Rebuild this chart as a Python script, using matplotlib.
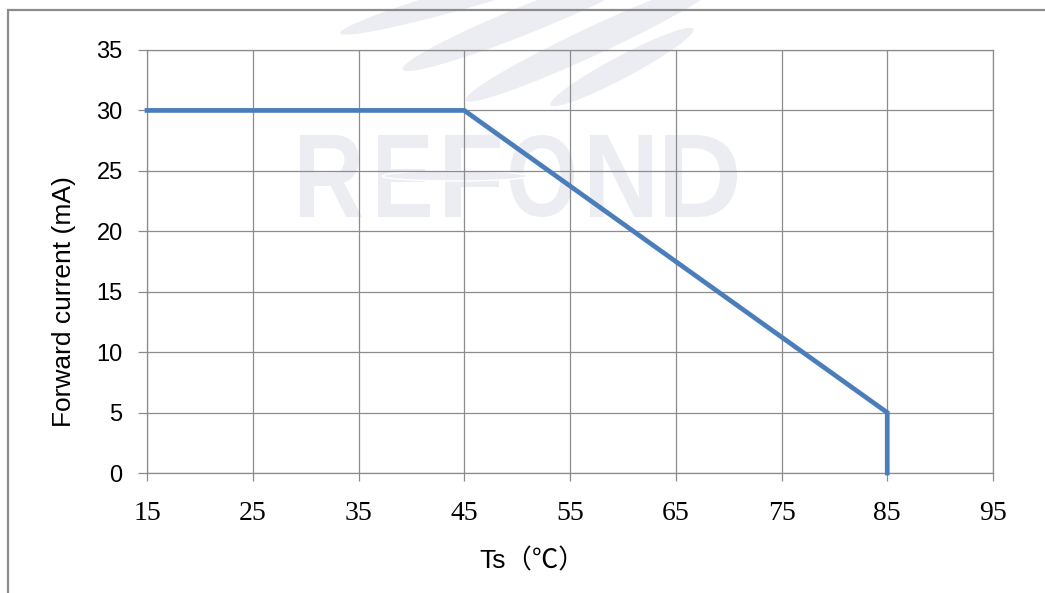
import matplotlib
matplotlib.use("Agg")
import matplotlib.pyplot as plt
from matplotlib.patches import Ellipse, Rectangle, PathPatch
from matplotlib.textpath import TextPath
from matplotlib.font_manager import FontProperties
from matplotlib.transforms import IdentityTransform, Affine2D

# ---- data ----
ts_c = [15, 45, 85, 85]
forward_ma = [30, 30, 5, 0]
x_ticks = [15, 25, 35, 45, 55, 65, 75, 85, 95]
y_ticks = [0, 5, 10, 15, 20, 25, 30, 35]
x_label = "Ts（℃）"
y_label = "Forward current (mA)"
watermark = "REFOND"

W, H = 1045, 593
fig = plt.figure(figsize=(W / 100, H / 100), dpi=100)
fig.patch.set_facecolor("white")

def px(x, y):
    return (x, H - y)

wm_color = "#ebedf3"
ident = IdentityTransform()

# swooshes of the watermark logo (pixel coords)
for (cx, cy, L, w, ang) in [(470, -4, 270, 22, 16), (530, 18, 275, 28, 22),
                            (595, 40, 285, 28, 25), (622, 67, 162, 22, 28)]:
    e = Ellipse(px(cx, cy), L, w, angle=ang, transform=ident,
                facecolor=wm_color, edgecolor="none", zorder=-2)
    fig.patches.append(e)

# watermark letters, each scaled into its own box
prop = FontProperties(family="Liberation Sans", weight="bold")
boxes = [(300, 362), (378, 430), (445, 500), (510, 574), (590, 652), (665, 737)]
yt, yb = 135, 217
for ch, (x0, x1) in zip(watermark, boxes):
    tp = TextPath((0, 0), ch, size=100, prop=prop)
    ext = tp.get_extents()
    sx = (x1 - x0) / ext.width
    sy = (yb - yt) / ext.height
    tr = Affine2D().translate(-ext.x0, -ext.y0).scale(sx, sy).translate(x0, H - yb)
    fig.patches.append(PathPatch(tr.transform_path(tp), transform=ident,
                                 facecolor=wm_color, edgecolor="none", zorder=-2))
fig.patches.append(Ellipse(px(455, 176), 145, 10, transform=ident,
                           facecolor=wm_color, edgecolor="white", linewidth=1.0,
                           zorder=-1.5))

# outer frame
fig.patches.append(Rectangle((8, -30), 1200, (H - 10) + 30, transform=ident,
                             facecolor="none", edgecolor="#8c8c8c",
                             linewidth=1.6, zorder=-1))

left, right, top, bottom = 147, 993, 50, 473
ax = fig.add_axes([left / W, (H - bottom) / H, (right - left) / W, (bottom - top) / H])
ax.set_facecolor("none")

ax.plot(ts_c, forward_ma, color="#4a7ebb", linewidth=3.4,
        solid_joinstyle="miter", zorder=3, clip_on=False)

ax.set_xlim(15, 95)
ax.set_ylim(0, 35)
ax.set_xticks(x_ticks)
ax.set_yticks(y_ticks)
ax.grid(True, color="#8c8c8c", linewidth=0.9)
ax.set_axisbelow(True)
for s in ax.spines.values():
    s.set_color("#8c8c8c")
    s.set_linewidth(0.9)

ax.tick_params(axis="x", direction="out", length=6, width=0.9, color="#8c8c8c",
               pad=14, labelsize=20)
ax.tick_params(axis="y", direction="out", length=6.5, width=0.9, color="#8c8c8c",
               pad=11, labelsize=17)
for t in ax.get_xticklabels():
    t.set_fontfamily(["Liberation Serif", "DejaVu Serif"])
for t in ax.get_yticklabels():
    t.set_fontfamily(["Liberation Sans", "DejaVu Sans"])

ax.set_xlabel(x_label, fontsize=19, family=["Liberation Sans", "Noto Sans CJK SC"])
ax.xaxis.label.set_va("center")
ax.xaxis.set_label_coords((532 - left) / (right - left), (H - 561 - (H - bottom)) / (bottom - top))

ax.set_ylabel(y_label, fontsize=19, family=["Liberation Sans", "DejaVu Sans"])
ax.yaxis.label.set_va("center")
ax.yaxis.set_label_coords((64 - left) / (right - left), ((H - 302) - (H - bottom)) / (bottom - top))

fig.savefig("out.png", dpi=100)
